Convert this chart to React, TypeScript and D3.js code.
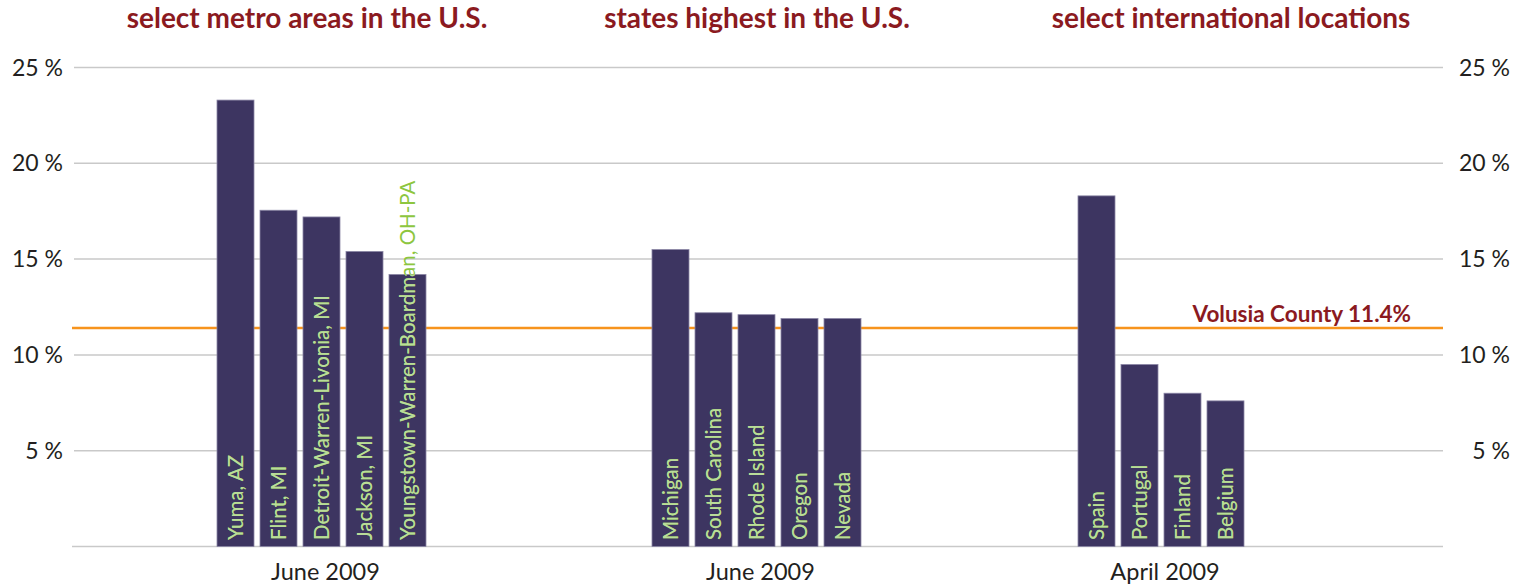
import React, { useEffect, useRef } from 'react';
import * as d3 from 'd3';

// values (unemployment rate, %)
const metroNames = ['Yuma, AZ', 'Flint, MI', 'Detroit-Warren-Livonia, MI', 'Jackson, MI', 'Youngstown-Warren-Boardman, OH-PA'];
const metroValues = [23.3, 17.55, 17.2, 15.4, 14.2];

const stateNames = ['Michigan', 'South Carolina', 'Rhode Island', 'Oregon', 'Nevada'];
const stateValues = [15.5, 12.2, 12.1, 11.9, 11.9];

const intlNames = ['Spain', 'Portugal', 'Finland', 'Belgium'];
const intlValues = [18.3, 9.5, 8.0, 7.6];

const groupTitles = ['select metro areas in the U.S.', 'states highest in the U.S.', 'select international locations'];
const groupPeriods = ['June 2009', 'June 2009', 'April 2009'];

const yTicks = [5, 10, 15, 20, 25];
const volusiaRate = 11.4;
const volusiaLabel = 'Volusia County 11.4%';

const WIDTH = 1523;
const HEIGHT = 585;

export default function App() {
    const ref = useRef<SVGSVGElement>(null);

    useEffect(() => {
        const svg = d3.select(ref.current);
        svg.selectAll('*').remove();

        const font = 'Lato, "Open Sans", sans-serif';
        const left = 72, right = 1443;

        const y = d3.scaleLinear().domain([0, 25]).range([546.5, 67.5]);

        const groups = [
            { names: metroNames, values: metroValues, range: [217, 426], title: 307 },
            { names: stateNames, values: stateValues, range: [652, 861], title: 757 },
            { names: intlNames, values: intlValues, range: [1078, 1244], title: 1231 },
        ];

        // grid
        svg.selectAll('line.grid')
            .data(yTicks)
            .enter()
            .append('line')
            .attr('x1', left + 2)
            .attr('x2', right)
            .attr('y1', d => y(d))
            .attr('y2', d => y(d))
            .attr('stroke', '#c9c9c9')
            .attr('stroke-width', 1.5);

        svg.append('line')
            .attr('x1', left)
            .attr('x2', right)
            .attr('y1', y(0))
            .attr('y2', y(0))
            .attr('stroke', '#c9c9c9')
            .attr('stroke-width', 1.5);

        // tick labels, both sides
        [63, 1510].forEach(tx => {
            svg.selectAll(null)
                .data(yTicks)
                .enter()
                .append('text')
                .attr('x', tx)
                .attr('y', d => y(d) + 8)
                .attr('text-anchor', 'end')
                .attr('font-family', font)
                .attr('font-size', 23)
                .attr('fill', '#231f20')
                .text(d => `${d} %`);
        });

        // Volusia County reference line
        svg.append('line')
            .attr('x1', left)
            .attr('x2', right)
            .attr('y1', y(volusiaRate))
            .attr('y2', y(volusiaRate))
            .attr('stroke', '#f7941d')
            .attr('stroke-width', 2.5);

        svg.append('text')
            .attr('x', 1411)
            .attr('y', y(volusiaRate) - 6)
            .attr('text-anchor', 'end')
            .attr('font-family', font)
            .attr('font-weight', 'bold')
            .attr('font-size', 22.5)
            .attr('fill', '#8b1a1f')
            .text(volusiaLabel);

        const defs = svg.append('defs');

        groups.forEach((g, gi) => {
            const x = d3.scaleBand<string>()
                .domain(g.names)
                .range(g.range as [number, number])
                .paddingInner(6 / 43);

            const bw = x.bandwidth();
            const center = (g.range[0] + g.range[1]) / 2;

            svg.append('text')
                .attr('x', g.title)
                .attr('y', 28)
                .attr('text-anchor', 'middle')
                .attr('font-family', font)
                .attr('font-weight', 'bold')
                .attr('font-size', 28)
                .attr('fill', '#8b1a1f')
                .text(groupTitles[gi]);

            svg.append('text')
                .attr('x', center + 4)
                .attr('y', 580)
                .attr('text-anchor', 'middle')
                .attr('font-family', font)
                .attr('font-size', 23.5)
                .attr('fill', '#231f20')
                .text(groupPeriods[gi]);

            g.names.forEach((name, i) => {
                const v = g.values[i];
                const bx = x(name) as number;
                const id = `clip-${gi}-${i}`;

                defs.append('clipPath')
                    .attr('id', id)
                    .append('rect')
                    .attr('x', bx)
                    .attr('y', y(v))
                    .attr('width', bw)
                    .attr('height', y(0) - y(v));

                svg.append('rect')
                    .attr('x', bx)
                    .attr('y', y(v))
                    .attr('width', bw)
                    .attr('height', y(0) - y(v))
                    .attr('fill', '#3d3561')
                    .attr('stroke', '#8c87a6')
                    .attr('stroke-width', 0.8);

                const tx = bx + bw / 2 + 7.5;
                const ty = 540;

                // label part outside the bar
                svg.append('text')
                    .attr('transform', `translate(${tx},${ty}) rotate(-90)`)
                    .attr('font-family', font)
                    .attr('font-size', 20.5)
                    .attr('fill', '#8dc63f')
                    .text(name);

                // label part over the bar, lighter
                svg.append('g')
                    .attr('clip-path', `url(#${id})`)
                    .append('text')
                    .attr('transform', `translate(${tx},${ty}) rotate(-90)`)
                    .attr('font-family', font)
                    .attr('font-size', 20.5)
                    .attr('fill', '#b9dc9a')
                    .text(name);
            });
        });
    }, []);

    return (
        <svg ref={ref} width={WIDTH} height={HEIGHT}
            style={{ position: 'absolute', left: 0, top: 0, background: '#fff' }}>
        </svg>
    );
}
